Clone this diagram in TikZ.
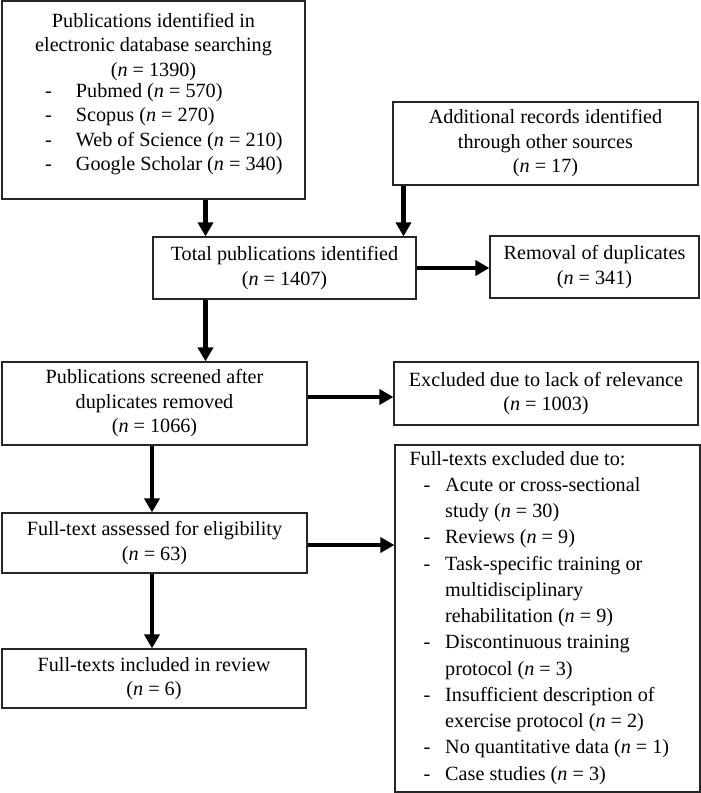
\documentclass[tikz,border=0pt]{standalone}
\usepackage{fontspec}
\setmainfont{Liberation Serif}
\usetikzlibrary{arrows.meta}
\tikzset{
  box/.style={draw=black!85, line width=1.2pt, inner sep=0pt, align=center,
    font=\fontsize{20.2}{24.5}\selectfont},
  txt/.style={inner sep=0pt},
  arr/.style={line width=4.6pt, -{Triangle[length=14pt,width=15pt]}},
}
\newcommand{\nn}[1]{(\textit{n} = #1)}
\begin{document}
\begin{tikzpicture}[x=1pt,y=-1pt]
\useasboundingbox (0,0) rectangle (701,793);
% boxes
\node[box, minimum width=303pt, minimum height=198pt] (A) at (153.5,100) {};
\node[txt, anchor=north, align=center, font=\fontsize{20.2}{24.5}\selectfont] (A1) at (153.5,12.9)
  {Publications identified in\\electronic database searching\\\nn{1390}};
\node[txt, anchor=north west] (A2) at (45,79.8) {\fontsize{20.2}{24.5}\selectfont
  \begin{tabular}{@{}l@{\hspace{24pt}}l@{}}
  - & Pubmed \nn{570}\\
  - & Scopus \nn{270}\\
  - & Web of Science \nn{210}\\
  - & Google Scholar \nn{340}
  \end{tabular}};
\node[box, minimum width=305pt, minimum height=83pt] (B) at (545.5,143.5)
  {Additional records identified\\through other sources\\\nn{17}};
\node[box, minimum width=263pt, minimum height=62pt] (T) at (284.5,268)
  {Total publications identified\\\nn{1407}};
\node[box, minimum width=209pt, minimum height=62pt] (R) at (594.5,267)
  {Removal of duplicates\\\nn{341}};
\node[box, minimum width=305pt, minimum height=83pt] (S) at (154.5,403.5)
  {Publications screened after\\duplicates removed\\\nn{1066}};
\node[box, minimum width=304pt, minimum height=63pt] (X) at (546,393.5)
  {Excluded due to lack of relevance\\\nn{1003}};
\node[box, minimum width=305pt, minimum height=60pt] (E) at (154.5,543)
  {Full-text assessed for eligibility\\\nn{63}};
\node[box, minimum width=304pt, minimum height=59pt] (I) at (154,678.5)
  {Full-texts included in review\\\nn{6}};
\node[box, minimum width=305pt, minimum height=347pt] (F) at (547.5,618.5) {};
\node[txt, anchor=north west] (F1) at (409.3,446.6) {\fontsize{20.2}{26.25}\selectfont
  \begin{tabular}{@{\hspace{14pt}}l@{\hspace{15pt}}l@{}}
  \multicolumn{2}{@{}l@{}}{Full-texts excluded due to:}\\
  - & Acute or cross-sectional\\
    & study \nn{30}\\
  - & Reviews \nn{9}\\
  - & Task-specific training or\\
    & multidisciplinary\\
    & rehabilitation \nn{9}\\
  - & Discontinuous training\\
    & protocol \nn{3}\\
  - & Insufficient description of\\
    & exercise protocol \nn{2}\\
  - & No quantitative data \nn{1}\\
  - & Case studies \nn{3}
  \end{tabular}};
% arrow columns / rows
\coordinate (xa) at (205.5,0);
\coordinate (xb) at (403.5,0);
\coordinate (xc) at (152,0);
\coordinate (ya) at (0,397);
\coordinate (yb) at (0,545);
% arrows
\draw[arr] (A.south -| xa) -- (T.north -| xa);
\draw[arr] (B.south -| xb) -- (T.north -| xb);
\draw[arr] (T.east) -- (T.east -| R.west);
\draw[arr] (T.south -| xa) -- (S.north -| xa);
\draw[arr] (S.east |- ya) -- (X.west |- ya);
\draw[arr] (S.south -| xc) -- (E.north -| xc);
\draw[arr] (E.east |- yb) -- (F.west |- yb);
\draw[arr] (E.south -| xc) -- (I.north -| xc);
\end{tikzpicture}
\end{document}
